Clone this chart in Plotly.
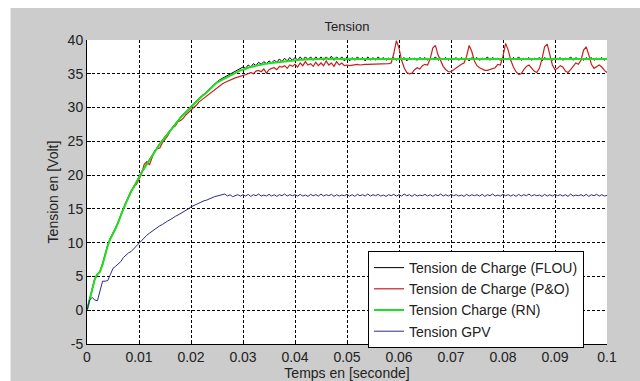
import numpy as np
import plotly.graph_objects as go

# Sampling grid of the simulation output (s)
sample_step = 0.0005
time_s = np.round(np.arange(201) * sample_step, 4)

# Tension de charge, commande floue (V)
v_flou = [
    0, 1.7, 3.3, 4.7, 5.4, 5.8, 6.9, 8.4, 9.7, 10.7,
    11.4, 12.2, 13.1, 14.2, 15.1, 16.0, 16.9, 17.7, 18.3, 19.1,
    19.9, 20.5, 21.1, 21.7, 22.4, 23.1, 23.7, 24.2, 24.7, 25.2,
    25.7, 26.2, 26.7, 27.2, 27.7, 28.2, 28.6, 29.0, 29.4, 29.8,
    30.1, 30.5, 30.9, 31.3, 31.7, 32.0, 32.3, 32.7, 33.1, 33.5,
    33.8, 34.1, 34.3, 34.6, 34.8, 35.0, 35.2, 35.4, 35.6, 35.8,
    36.0, 35.8, 36.3, 36.0, 36.5, 36.2, 36.7, 36.4, 36.8, 36.5,
    36.9, 36.6, 37.0, 36.7, 37.2, 36.8, 37.3, 36.9, 37.4, 37.0,
    37.4, 37.0, 37.5, 37.0, 37.5, 37.1, 37.5, 37.0, 37.5, 37.1,
    37.5, 37.0, 37.5, 37.1, 37.6, 37.0, 37.5, 37.1, 37.5, 36.9,
    37.5, 36.9, 37.4, 37.0, 37.5, 37.1, 37.4, 36.9, 37.5, 37.0,
    37.4, 37.0, 37.5, 37.1, 37.4, 37.0, 37.3, 37.1, 37.4, 37.0,
    37.3, 37.1, 37.4, 36.9, 37.4, 37.1, 37.3, 37.0, 37.4, 37.1,
    37.4, 37.0, 37.3, 37.1, 37.5, 37.0, 37.3, 37.1, 37.4, 37.0,
    37.3, 37.1, 37.4, 37.0, 37.4, 37.1, 37.3, 36.9, 37.4, 37.1,
    37.4, 37.0, 37.3, 37.1, 37.5, 37.0, 37.4, 37.1, 37.3, 37.0,
    37.4, 37.1, 37.3, 37.0, 37.4, 37.1, 37.5, 37.0, 37.3, 37.1,
    37.4, 37.0, 37.3, 37.1, 37.4, 36.9, 37.4, 37.1, 37.3, 37.0,
    37.4, 37.1, 37.4, 37.0, 37.3, 37.1, 37.5, 37.0, 37.4, 37.1,
    37.3, 37.0, 37.4, 37.1, 37.4, 37.0, 37.3, 37.1, 37.4, 37.0,
    37.3,
]

# Tension de charge, perturbation & observation (V)
v_po = [
    0, 1.6, 3.2, 4.6, 5.3, 5.7, 6.8, 8.3, 9.6, 10.6,
    11.3, 12.1, 13.0, 14.1, 15.0, 15.9, 16.8, 17.5, 18.4, 18.6,
    19.3, 20.2, 21.6, 22.0, 21.5, 22.6, 23.6, 23.9, 24.0, 24.8,
    25.3, 25.8, 26.5, 27.0, 27.3, 27.9, 28.1, 28.4, 28.9, 29.3,
    29.6, 30.0, 30.3, 30.8, 31.1, 31.4, 31.7, 32.1, 32.3, 32.6,
    33.0, 33.3, 33.5, 33.7, 33.9, 34.1, 34.2, 34.4, 34.5, 34.6,
    34.7, 34.9, 35.0, 35.2, 35.0, 35.4, 35.5, 35.3, 35.7, 35.1,
    35.6, 35.8, 35.9, 35.6, 36.1, 36.0, 36.2, 35.8, 36.3, 36.1,
    36.4, 36.0, 36.6, 36.2, 36.8, 36.3, 36.5, 36.1, 36.7, 36.2,
    36.6, 36.2, 36.9, 36.3, 36.6, 36.1, 36.8, 36.3, 36.6, 36.2,
    36.3, 36.2, 36.3, 36.3, 36.4, 36.3, 36.4, 36.4, 36.4, 36.4,
    36.4, 36.5, 36.4, 36.5, 36.5, 36.5, 36.5, 36.6, 38.0, 39.9,
    38.8, 37.0, 35.9, 35.2, 35.0, 35.1, 35.6, 35.9, 35.7, 36.2,
    36.4, 36.3, 37.2, 38.8, 39.2, 37.8, 36.8, 36.1, 35.6, 35.3,
    35.3, 35.6, 35.9, 36.2, 36.4, 36.6, 37.6, 39.2, 38.3, 36.9,
    36.2, 35.9, 35.7, 35.5, 35.5, 35.6, 35.7, 35.9, 36.4, 36.3,
    37.6, 39.5, 38.5, 37.0, 36.0, 35.3, 34.9, 35.0, 35.6, 36.1,
    36.3, 35.9, 35.4, 35.2, 35.8, 37.2, 39.0, 39.4, 37.8, 36.3,
    35.6, 35.8, 36.2, 36.0, 35.4, 35.2, 35.6, 36.2, 36.6, 36.4,
    37.0, 38.5, 39.0, 37.8, 36.4, 35.8, 36.0, 36.3, 36.0, 35.5,
    35.2,
]

# Tension de charge, reseau de neurones (V)
v_rn = [
    0, 1.6, 3.2, 4.6, 5.3, 5.7, 6.8, 8.3, 9.6, 10.6,
    11.3, 12.1, 13.0, 14.1, 15.0, 15.9, 16.8, 17.6, 18.2, 19.0,
    19.8, 20.4, 21.0, 21.6, 22.3, 23.0, 23.6, 24.1, 24.6, 25.1,
    25.6, 26.1, 26.6, 27.1, 27.6, 28.1, 28.5, 28.9, 29.3, 29.7,
    30.0, 30.4, 30.8, 31.2, 31.6, 31.9, 32.2, 32.6, 33.0, 33.4,
    33.7, 33.9, 34.1, 34.4, 34.6, 34.8, 35.0, 35.2, 35.3, 35.5,
    35.6, 35.8, 35.9, 36.0, 36.1, 36.2, 36.3, 36.35, 36.4, 36.5,
    36.55, 36.6, 36.65, 36.7, 36.75, 36.8, 36.85, 36.9, 36.95, 37.0,
    37.0, 37.05, 37.05, 37.1, 37.1, 37.1, 37.15, 37.15, 37.2, 37.2,
    37.2, 37.25, 37.2, 37.15, 37.2, 37.25, 37.2, 37.2, 37.15, 37.2,
    37.2, 37.25, 37.2, 37.2, 37.15, 37.2, 37.25, 37.2, 37.2, 37.15,
    37.2, 37.25, 37.2, 37.15, 37.2, 37.25, 37.2, 37.2, 37.15, 37.2,
    37.2, 37.25, 37.2, 37.2, 37.15, 37.2, 37.25, 37.2, 37.2, 37.15,
    37.2, 37.25, 37.2, 37.15, 37.2, 37.25, 37.2, 37.2, 37.15, 37.2,
    37.2, 37.25, 37.2, 37.2, 37.15, 37.2, 37.25, 37.2, 37.2, 37.15,
    37.2, 37.25, 37.2, 37.15, 37.2, 37.25, 37.2, 37.2, 37.15, 37.2,
    37.2, 37.25, 37.2, 37.2, 37.15, 37.2, 37.25, 37.2, 37.2, 37.15,
    37.2, 37.25, 37.2, 37.15, 37.2, 37.25, 37.2, 37.2, 37.15, 37.2,
    37.2, 37.25, 37.2, 37.2, 37.15, 37.2, 37.25, 37.2, 37.2, 37.15,
    37.2, 37.25, 37.2, 37.15, 37.2, 37.25, 37.2, 37.2, 37.15, 37.2,
    37.2,
]

# Tension du generateur photovoltaique (V)
v_gpv = [
    0, 1.5, 1.9, 1.5, 1.4, 3.0, 4.3, 4.3, 4.4, 5.3,
    6.2, 6.5, 6.9, 7.2, 7.8, 8.2, 8.5, 8.7, 9.1, 9.6,
    10.0, 10.4, 10.8, 11.1, 11.4, 11.7, 11.9, 12.2, 12.5, 12.7,
    13.0, 13.2, 13.4, 13.7, 13.9, 14.1, 14.3, 14.5, 14.8, 15.0,
    15.3, 15.5, 15.7, 15.9, 16.0, 16.2, 16.3, 16.5, 16.6, 16.8,
    16.9, 17.0, 17.1, 17.2, 16.9, 17.1, 16.8, 17.0, 17.1, 16.9,
    17.1, 16.9, 17.15, 16.85, 17.1, 16.95, 17.2, 16.9, 17.05, 16.9,
    17.15, 16.9, 17.1, 16.85, 17.1, 16.95, 17.2, 16.9, 17.1, 16.95,
    17.1, 16.9, 17.15, 16.9, 17.05, 16.85, 17.15, 16.95, 17.1, 16.9,
    17.2, 16.9, 17.1, 16.95, 17.15, 16.85, 17.1, 16.9, 17.05, 16.95,
    17.15, 16.9, 17.1, 16.85, 17.15, 16.95, 17.1, 16.9, 17.2, 16.9,
    17.1, 16.95, 17.15, 16.9, 17.05, 16.85, 17.1, 16.95, 17.15, 16.9,
    17.1, 16.9, 17.2, 16.95, 17.1, 16.85, 17.15, 16.9, 17.05, 16.95,
    17.15, 16.9, 17.1, 16.85, 17.1, 16.95, 17.2, 16.9, 17.1, 16.9,
    17.15, 16.95, 17.1, 16.9, 17.05, 16.85, 17.15, 16.9, 17.1, 16.95,
    17.1, 16.9, 17.15, 16.85, 17.1, 16.95, 17.2, 16.9, 17.05, 16.9,
    17.15, 16.95, 17.1, 16.9, 17.1, 16.85, 17.15, 16.9, 17.1, 16.95,
    17.2, 16.9, 17.1, 16.95, 17.05, 16.85, 17.15, 16.9, 17.1, 16.9,
    17.15, 16.95, 17.1, 16.9, 17.1, 16.85, 17.2, 16.9, 17.05, 16.95,
    17.1, 16.9, 17.15, 16.85, 17.1, 16.95, 17.15, 16.9, 17.1, 16.9,
    17.0,
]

series_names = [
    "Tension de Charge (FLOU)",
    "Tension de Charge (P&O)",
    "Tension Charge (RN)",
    "Tension GPV",
]

x_tick_vals = [0, 0.01, 0.02, 0.03, 0.04, 0.05, 0.06, 0.07, 0.08, 0.09, 0.1]
x_tick_text = ["0", "0.01", "0.02", "0.03", "0.04", "0.05", "0.06", "0.07", "0.08", "0.09", "0.1"]
y_tick_vals = [-5, 0, 5, 10, 15, 20, 25, 30, 35, 40]
y_tick_text = ["-5", "0", "5", "10", "15", "20", "25", "30", "35", "40"]

FONT = "Liberation Sans, Arial, sans-serif"
TEXT = "#222222"

fig = go.Figure()
styles = [
    dict(color="#000000", width=1),
    dict(color="#c81e1e", width=1.2),
    dict(color="#22dd22", width=2),
    dict(color="#2a2a8c", width=1),
]
for name, values, line in zip(series_names, [v_flou, v_po, v_rn, v_gpv], styles):
    fig.add_trace(go.Scatter(x=time_s, y=values, mode="lines", name=name, line=line))

axis_common = dict(
    showline=True, linecolor="#000000", linewidth=1, mirror=False,
    ticks="inside", ticklen=4, tickcolor="#000000",
    showgrid=True, gridcolor="#000000", gridwidth=1, griddash="3px,2px",
    zeroline=False, automargin=False,
    tickfont=dict(family=FONT, size=14, color=TEXT),
    title_font=dict(family=FONT, size=14, color=TEXT),
)

fig.update_xaxes(
    range=[0, 0.1], tickmode="array", tickvals=x_tick_vals, ticktext=x_tick_text,
    title_text="Temps en [seconde]", title_standoff=1, **axis_common,
)
fig.update_yaxes(
    range=[-5, 40], tickmode="array", tickvals=y_tick_vals, ticktext=y_tick_text,
    title_text="Tension en [Volt]", title_standoff=5, **axis_common,
)

# Outer figure panel with a thin white border on the top and left edges
pl, pr, pt, pb = 87, 33, 40, 37
W, H = 640, 381
pw, ph = W - pl - pr, H - pt - pb

def px_to_paper_x(px):
    return (px - pl) / pw

def px_to_paper_y(py):
    return (H - pb - py) / ph

fig.add_shape(type="rect", xref="paper", yref="paper", line_width=0, fillcolor="white",
              x0=px_to_paper_x(0), x1=px_to_paper_x(10.5), y0=px_to_paper_y(H), y1=px_to_paper_y(0))
fig.add_shape(type="rect", xref="paper", yref="paper", line_width=0, fillcolor="white",
              x0=px_to_paper_x(0), x1=px_to_paper_x(W), y0=px_to_paper_y(8), y1=px_to_paper_y(0))

fig.update_layout(
    width=W, height=H,
    margin=dict(l=pl, r=pr, t=pt, b=pb, autoexpand=False),
    paper_bgcolor="#cccccc", plot_bgcolor="#ffffff",
    title=dict(text="Tension", x=0.5, xref="paper", y=1 - 26 / H, yanchor="middle",
               font=dict(family=FONT, size=13, color=TEXT)),
    legend=dict(
        x=px_to_paper_x(368), y=px_to_paper_y(251), xanchor="left", yanchor="top",
        bgcolor="#ffffff", bordercolor="#000000", borderwidth=1,
        font=dict(family=FONT, size=14, color=TEXT),
        tracegroupgap=0,
    ),
    showlegend=True,
)

fig.write_html("out.html")
